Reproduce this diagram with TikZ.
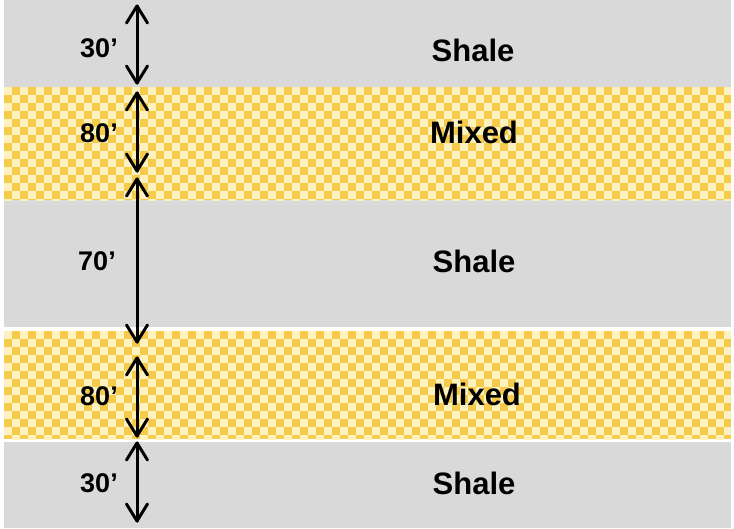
\documentclass[tikz,border=0pt]{standalone}
\usepackage{fontspec}
\setmainfont{Liberation Sans}
\definecolor{shalegrey}{HTML}{D9D9D9}
\definecolor{sandgold}{HTML}{F6CB4C}
\definecolor{sandlight}{HTML}{FDF1BE}
\tikzset{
  bandname/.style={font=\bfseries\fontsize{31}{31}\selectfont, inner sep=0pt},
  thick label/.style={font=\bfseries\fontsize{27}{27}\selectfont, inner sep=0pt},
  dimline/.style={line width=3pt, line cap=round, line join=round}
}
% checkerboard fill for a mixed layer between y=#1 and y=#2
\newcommand{\mixedband}[2]{%
  \begin{scope}
    \clip (4,#1) rectangle (731,#2);
    \fill[sandgold] (4,#1) rectangle (731,#2);
    \pgfmathtruncatemacro{\nrows}{(#2-#1)/8}
    \foreach \r in {0,...,\nrows}{
      \pgfmathsetmacro{\ph}{mod(\r,2)*8}
      \draw[sandlight, line width=8pt, dash pattern=on 8pt off 8pt, dash phase=\ph pt]
        (4,{#1+8*\r+4}) -- (731,{#1+8*\r+4});
    }
  \end{scope}}
% double-headed dimension line with open barbs between two named points
\newcommand{\dimension}[2]{%
  \draw[dimline] (#1) -- (#2);
  \draw[dimline] (#1) ++(-10.5,17) -- (#1) -- ++(10.5,17);
  \draw[dimline] (#2) ++(-10.5,-17) -- (#2) -- ++(10.5,-17);}
\begin{document}
\begin{tikzpicture}[x=1pt,y=-1pt]
\useasboundingbox (0,0) rectangle (734,528);
\fill[white] (0,0) rectangle (734,528);
% shale layers
\fill[shalegrey] (4,0) rectangle (731,87);
\fill[shalegrey] (4,200) rectangle (731,327);
\fill[shalegrey] (4,442) rectangle (731,528);
% mixed layers
\mixedband{87}{200}
\mixedband{331}{439}
% layer names
\node[bandname] (n1) at (473,50) {Shale};
\node[bandname] (n2) at (474,132) {Mixed};
\node[bandname] (n3) at (474,261) {Shale};
\node[bandname] (n4) at (477,394) {Mixed};
\node[bandname] (n5) at (474,483) {Shale};
% thickness labels
\node[thick label] (t1) at (99,48) {30’};
\node[thick label] (t2) at (99,133) {80’};
\node[thick label] (t3) at (97,261) {70’};
\node[thick label] (t4) at (99,396) {80’};
\node[thick label] (t5) at (99,483) {30’};
% dimension arrows
\coordinate (a1t) at (137,6);   \coordinate (a1b) at (137,83);
\coordinate (a2t) at (137,93);  \coordinate (a2b) at (137,171);
\coordinate (a3t) at (137,179); \coordinate (a3b) at (137,342);
\coordinate (a4t) at (137,358); \coordinate (a4b) at (137,436);
\coordinate (a5t) at (137,443); \coordinate (a5b) at (137,521);
\dimension{a1t}{a1b}
\dimension{a2t}{a2b}
\dimension{a3t}{a3b}
\dimension{a4t}{a4b}
\dimension{a5t}{a5b}
\end{tikzpicture}
\end{document}
